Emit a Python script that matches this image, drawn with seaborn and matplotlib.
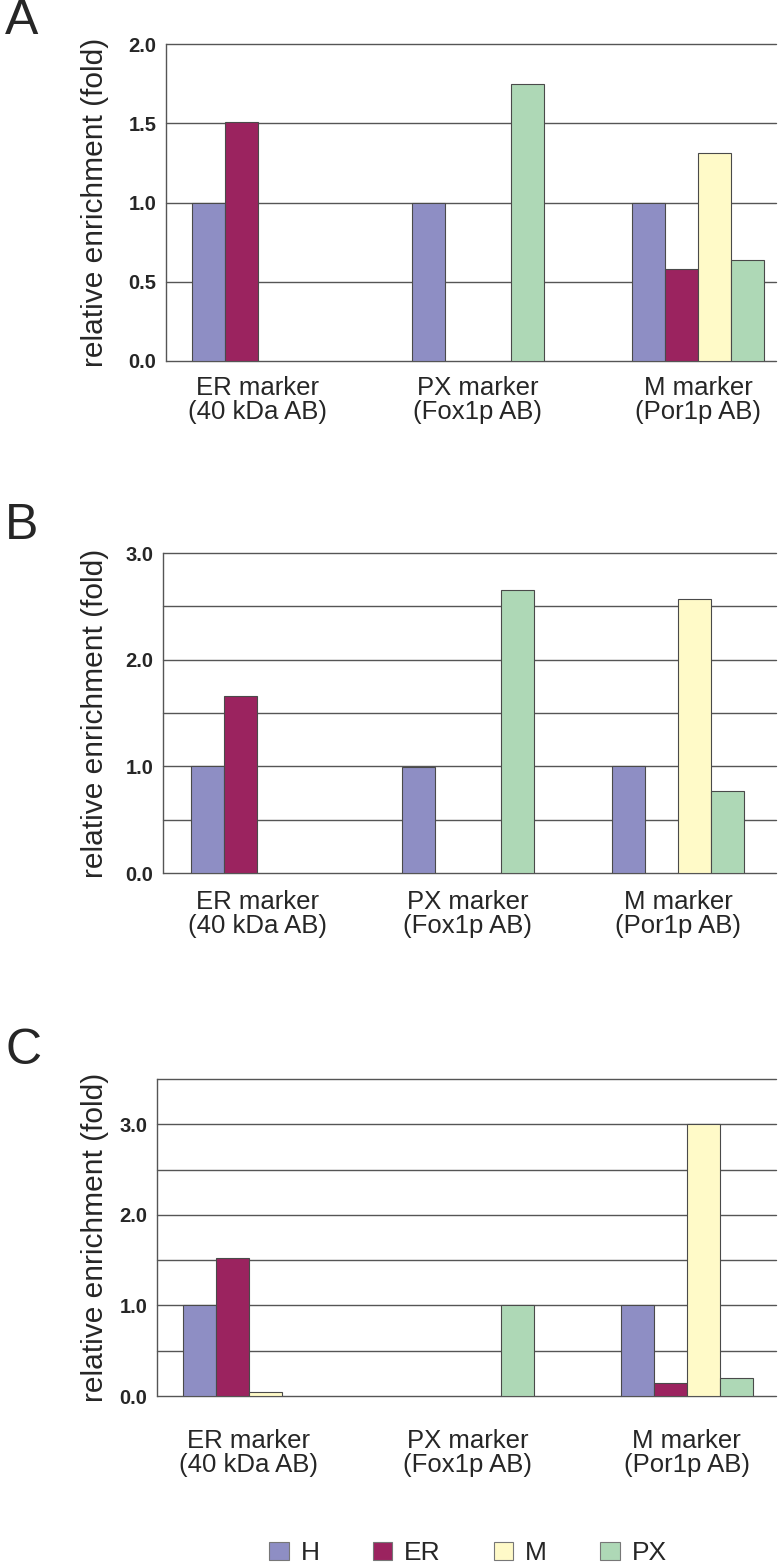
import numpy as np
import pandas as pd
import matplotlib.pyplot as plt
import seaborn as sns
from matplotlib.patches import Patch


# data

markers = ["ER marker\n(40 kDa AB)", "PX marker\n(Fox1p AB)", "M marker\n(Por1p AB)"]
fractions = ["H", "ER", "M", "PX"]
nan = np.nan

# panel A
h_a = [1.00, 1.00, 1.00]
er_a = [1.51, nan, 0.58]
m_a = [nan, nan, 1.31]
px_a = [nan, 1.75, 0.64]

# panel B
h_b = [1.00, 0.99, 1.00]
er_b = [1.66, nan, nan]
m_b = [nan, nan, 2.57]
px_b = [nan, 2.65, 0.77]

# panel C
h_c = [1.00, nan, 1.01]
er_c = [1.52, nan, 0.14]
m_c = [0.04, nan, 3.00]
px_c = [nan, 1.00, 0.20]

colors = ["#8e8ec4", "#9b235f", "#fffac8", "#aed8b6"]


def long_table(h, er, m, px):
    rows = []
    for frac, vals in zip(fractions, [h, er, m, px]):
        for mk, v in zip(markers, vals):
            rows.append({"marker": mk, "fraction": frac, "value": v})
    return pd.DataFrame(rows).dropna()


panels = [
    ("A", long_table(h_a, er_a, m_a, px_a)),
    ("B", long_table(h_b, er_b, m_b, px_b)),
    ("C", long_table(h_c, er_c, m_c, px_c)),
]


# plot

sns.set_style("white")
plt.rcParams["font.family"] = ["Liberation Sans", "DejaVu Sans"]

W, H = 779, 1565
fig = plt.figure(figsize=(W / 100, H / 100), dpi=100)

# (left px, top px, bottom px, xlim, bar group width, ymax, major ticks, xlabel pad)
layout = {
    "A": (166, 44, 361, (-0.418, 2.355), 0.60, 2.0, [0, 0.5, 1.0, 1.5, 2.0], 11),
    "B": (163, 553, 873, (-0.448, 2.465), 0.627, 3.0, [0, 1, 2, 3], 12),
    "C": (157, 1079, 1396, (-0.419, 2.408), 0.603, 3.5, [0, 1, 2, 3], 24),
}
letter_y = {"A": -2, "B": 503, "C": 1028}

for name, df in panels:
    left, top, bottom, xlim, width, ymax, majors, pad = layout[name]
    ax = fig.add_axes([left / W, 1 - bottom / H, (776 - left) / W, (bottom - top) / H])
    sns.barplot(data=df, x="marker", y="value", hue="fraction",
                order=markers, hue_order=fractions, palette=colors,
                saturation=1, width=width, edgecolor="#4a4a4a", linewidth=0.8,
                errorbar=None, legend=False, ax=ax)
    ax.set_xlim(*xlim)
    ax.set_ylim(0, ymax)
    ax.set_yticks(majors)
    ax.set_yticks(np.arange(0, ymax + 0.01, 0.5), minor=True)
    ax.set_yticklabels([f"{v:.1f}" for v in majors])
    ax.grid(axis="y", which="both", color="#555555", linewidth=1)
    ax.set_axisbelow(True)
    for t in ax.yaxis.get_major_ticks() + ax.yaxis.get_minor_ticks():
        t.gridline.set_clip_on(False)
    for s in ["top", "right", "bottom"]:
        ax.spines[s].set_visible(False)
    ax.spines["left"].set_color("#555555")
    ax.spines["left"].set_linewidth(1)
    ax.tick_params(axis="y", which="both", length=0, pad=7)
    ax.tick_params(axis="x", length=0, pad=pad)
    for lab in ax.get_yticklabels():
        lab.set_fontsize(14.5)
        lab.set_fontweight("bold")
    for lab in ax.get_xticklabels():
        lab.set_fontsize(18.5)
        lab.set_linespacing(1.0)
    ax.set_xlabel("")
    ax.set_ylabel("relative enrichment (fold)", fontsize=21.5)
    ax.yaxis.set_label_coords((109 - left) / (776 - left), 0.5)
    fig.text(5 / W, 1 - letter_y[name] / H, name, fontsize=36, va="top", ha="left")

handles = [Patch(facecolor=c, edgecolor="#777777", linewidth=0.8) for c in colors]
fig.legend(handles, fractions, loc="center", bbox_to_anchor=(468 / W, 1 - 1553 / H),
           ncol=4, frameon=False, fontsize=19, handlelength=0.75, handleheight=0.7,
           handletextpad=0.45, columnspacing=2.0, borderpad=0)

plt.savefig("out.png", dpi=100)
